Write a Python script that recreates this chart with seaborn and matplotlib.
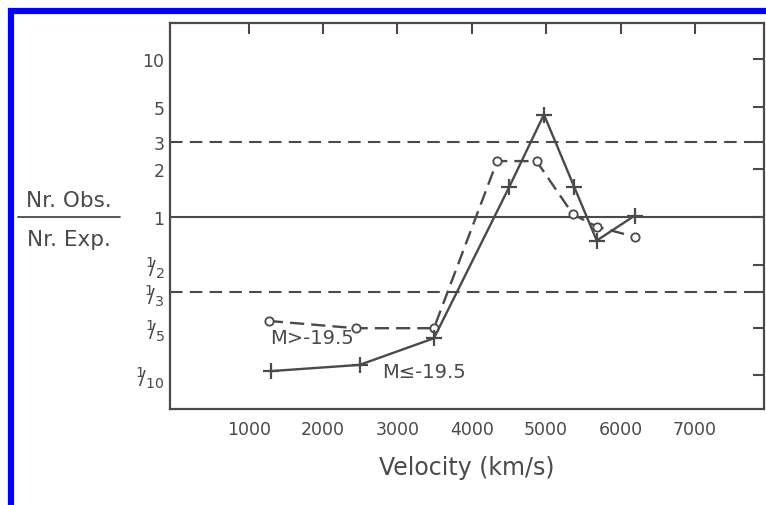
import matplotlib
matplotlib.use("Agg")
import matplotlib.pyplot as plt
import seaborn as sns
import pandas as pd
from matplotlib.lines import Line2D
from matplotlib.patches import Rectangle

# ---- data ----
faint_velocity = [1270, 2440, 3490, 4340, 4870, 5360, 5680, 6190]
faint_ratio = [0.22, 0.198, 0.198, 2.26, 2.26, 1.04, 0.87, 0.75]

bright_velocity = [1300, 2490, 3490, 4500, 4970, 5380, 5680, 6190]
bright_ratio = [0.106, 0.116, 0.171, 1.54, 4.45, 1.54, 0.71, 1.02]

ytick_values = [10, 5, 3, 2, 1, 1/2, 1/3, 1/5, 1/10]
ytick_labels = ["10", "5", "3", "2", "1",
                r"$^{1}\!\!/_{2}$", r"$^{1}\!\!/_{3}$", r"$^{1}\!\!/_{5}$", r"$^{1}\!\!/_{10}$"]
xtick_values = [1000, 2000, 3000, 4000, 5000, 6000, 7000]
xtick_labels = ["1000", "2000", "3000", "4000", "5000", "6000", "7000"]
ref_solid = [1]
ref_dashed = [3, 1/3]

faint_df = pd.DataFrame({"velocity": faint_velocity, "ratio": faint_ratio})
bright_df = pd.DataFrame({"velocity": bright_velocity, "ratio": bright_ratio})

sns.set_theme(style="white")
plt.rcParams["font.family"] = ["DejaVu Sans"]

ink = "#4a4a4a"
W, H = 766, 506
fig = plt.figure(figsize=(W / 100, H / 100), dpi=100)
fig.patch.set_facecolor("white")
ax = fig.add_axes([170 / W, (H - 410) / H, (764 - 170) / W, (410 - 24) / H])
ax.set_facecolor("white")

ax.set_yscale("log")
ax.set_xlim(-60, 7930)
ax.set_ylim(0.061, 16.9)

for v in ref_solid:
    ax.axhline(v, color=ink, lw=1.5, zorder=1)
for v in ref_dashed:
    ax.axhline(v, color=ink, lw=1.5, ls=(0, (6, 3.5)), zorder=1)

sns.lineplot(data=faint_df, x="velocity", y="ratio", ax=ax, color=ink, lw=1.7,
             marker="o", markersize=6, markerfacecolor="white",
             markeredgecolor=ink, markeredgewidth=1.3,
             dashes=False, linestyle=(0, (6, 3)), sort=False, zorder=3)
sns.lineplot(data=bright_df, x="velocity", y="ratio", ax=ax, color=ink, lw=1.7,
             marker="+", markersize=11, markeredgewidth=1.6,
             markeredgecolor=ink, sort=False, zorder=3)

ax.set_yticks(ytick_values)
ax.set_yticklabels(ytick_labels)
ax.minorticks_off()
ax.set_xticks(xtick_values)
ax.set_xticklabels(xtick_labels)
ax.tick_params(axis="both", which="major", direction="in", length=8, width=1.5,
               color=ink, labelcolor=ink, top=True, right=True,
               labeltop=False, labelright=False, labelsize=12.5)
ax.tick_params(axis="x", pad=8)
ax.tick_params(axis="y", pad=4)
for lab in ax.get_yticklabels():
    if "/" in lab.get_text():
        lab.set_fontsize(14.5)
for sp in ax.spines.values():
    sp.set_visible(True)
    sp.set_color(ink)
    sp.set_linewidth(1.6)

ax.set_xlabel("Velocity (km/s)", fontsize=17, color=ink, labelpad=12)
ax.set_ylabel("")

ax.text(1850, 0.172, "M>-19.5", fontsize=14, color=ink, ha="center", va="center")
ax.text(3350, 0.106, "M≤-19.5", fontsize=14, color=ink, ha="center", va="center")

# fraction-style y label
fig.text(69 / W, 1 - 201 / H, "Nr. Obs.", fontsize=15.5, color=ink, ha="center", va="center")
fig.text(69 / W, 1 - 240 / H, "Nr. Exp.", fontsize=15.5, color=ink, ha="center", va="center")
fig.add_artist(Line2D([18 / W, 120 / W], [1 - 218 / H, 1 - 218 / H],
                      color=ink, lw=1.3, transform=fig.transFigure))

# blue frame
fig.add_artist(Rectangle((11 / W, -0.1), 1.2, 1 - 11.5 / H + 0.1, fill=False,
                         edgecolor="#0000ff", lw=4.5, transform=fig.transFigure))

fig.savefig("out.png", dpi=100, facecolor="white")
